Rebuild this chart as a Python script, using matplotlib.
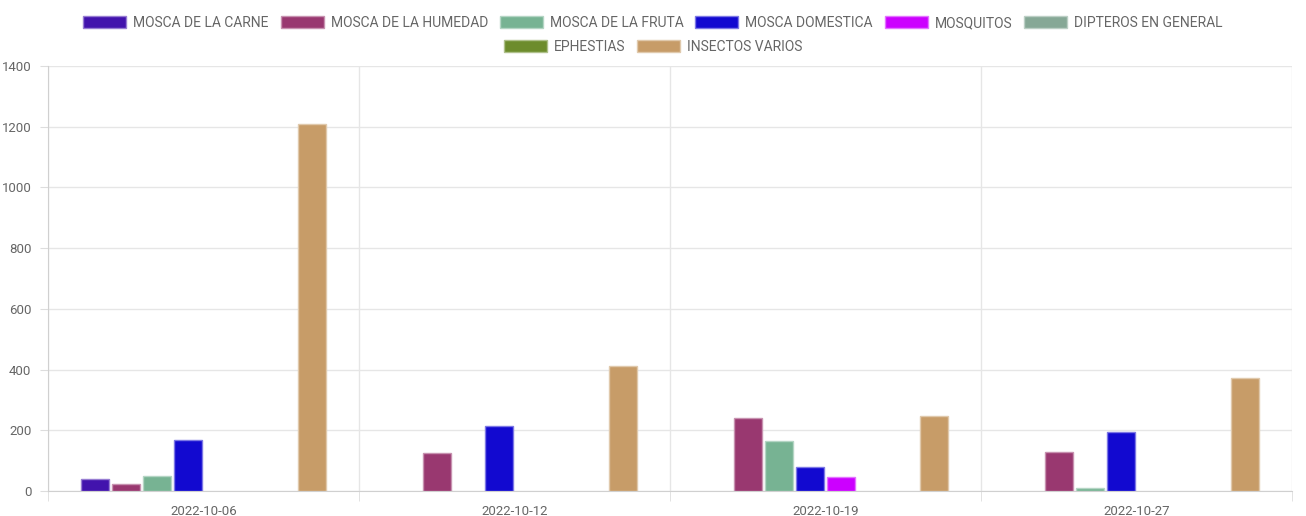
import matplotlib.pyplot as plt
import numpy as np
from matplotlib.patches import Patch
from matplotlib.colors import to_rgb

plt.rcParams["font.family"] = ["Roboto", "DejaVu Sans"]

dates = ["2022-10-06", "2022-10-12", "2022-10-19", "2022-10-27"]
series = [
    "MOSCA DE LA CARNE",
    "MOSCA DE LA HUMEDAD",
    "MOSCA DE LA FRUTA",
    "MOSCA DOMESTICA",
    "MOSQUITOS",
    "DIPTEROS EN GENERAL",
    "EPHESTIAS",
    "INSECTOS VARIOS",
]
colors = ["#4213ad", "#993870", "#77b393", "#1209d0", "#cc00ff", "#86a896", "#6d8c2c", "#c79c68"]

carne = [40, 0, 0, 0]
humedad = [22, 125, 240, 128]
fruta = [50, 0, 165, 9]
domestica = [168, 214, 79, 194]
mosquitos = [0, 0, 46, 0]
dipteros = [0, 0, 0, 0]
ephestias = [0, 0, 0, 0]
varios = [1210, 412, 247, 372]
values = [carne, humedad, fruta, domestica, mosquitos, dipteros, ephestias, varios]

fig = plt.figure(figsize=(13.06, 5.16), dpi=100)
ax = fig.add_axes([48 / 1306, 25 / 516, 1244 / 1306, 425 / 516])

n = len(series)
x = np.arange(len(dates))
slot = 0.8 / n
bar_w = slot * 0.9


def lighter(c, f=0.45):
    r, g, b = to_rgb(c)
    return (r + (1 - r) * f, g + (1 - g) * f, b + (1 - b) * f)


for i, (vals, col) in enumerate(zip(values, colors)):
    pos = x - 0.4 + slot * (i + 0.5)
    lw = [1 if v > 0 else 0 for v in vals]
    ax.bar(pos, vals, width=bar_w, color=col, edgecolor=lighter(col), linewidth=lw, zorder=3)

ax.set_xlim(-0.5, len(dates) - 0.5)
ax.set_ylim(0, 1400)
ax.set_yticks(np.arange(0, 1401, 200))
ax.set_xticks(x)
ax.set_xticklabels(dates)
ax.set_xticks(np.arange(-0.5, len(dates)), minor=True)

ax.tick_params(axis="x", which="major", length=0, pad=10, labelsize=9.5, colors="#666666")
ax.tick_params(axis="x", which="minor", length=7, color="#dddddd")
ax.tick_params(axis="y", length=6, color="#dddddd", pad=6, labelsize=9.5, labelcolor="#666666")

ax.grid(axis="y", color="#e6e6e6", linewidth=1, zorder=0)
ax.grid(axis="x", which="minor", color="#e6e6e6", linewidth=1, zorder=0)
for side in ["top", "right"]:
    ax.spines[side].set_visible(False)
ax.spines["left"].set_color("#d0d0d0")
ax.spines["bottom"].set_color("#d0d0d0")

handles = [Patch(facecolor=c, edgecolor=lighter(c), linewidth=1) for c in colors]
kw = dict(frameon=False, fontsize=10, handlelength=3.1, handleheight=0.95,
          handletextpad=0.5, columnspacing=0.85, labelcolor="#666666", borderaxespad=0)
fig.legend(handles[:6], series[:6], ncol=6, loc="center", bbox_to_anchor=(0.5, 1 - 23 / 516), **kw)
fig.legend(handles[6:], series[6:], ncol=2, loc="center", bbox_to_anchor=(0.5, 1 - 47 / 516), **kw)

fig.savefig("out.png", dpi=100)
